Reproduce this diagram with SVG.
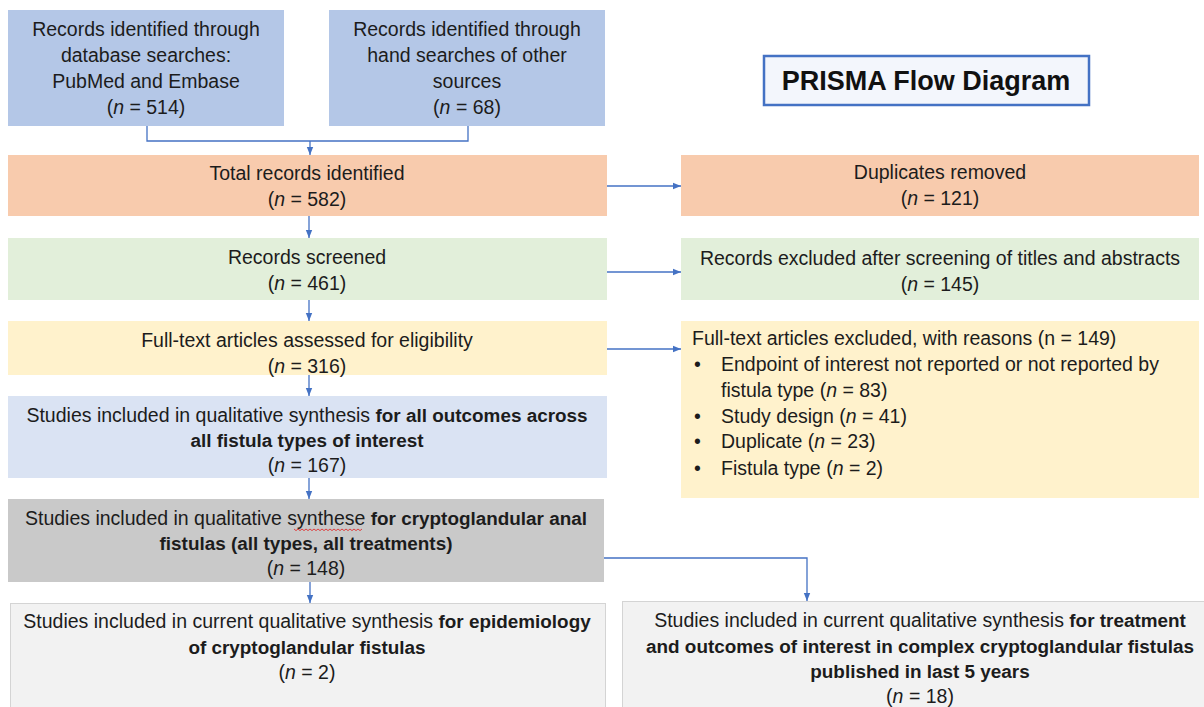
<svg xmlns="http://www.w3.org/2000/svg" width="1204" height="707" viewBox="0 0 1204 707">
  <style>
    .t { font-family: "Liberation Sans", Arial, sans-serif; font-size: 19.5px; fill: #1c1c1c; }
    .c { text-anchor: middle; }
    .b { font-weight: bold; font-size: 18.9px; }
    .i { font-style: italic; }
    .title { font-family: "Liberation Sans", Arial, sans-serif; font-size: 27px; font-weight: bold; fill: #111; text-anchor: middle; }
    .conn { fill: none; stroke: #4472c4; stroke-width: 1.3; }
  </style>
  <defs>
    <marker id="arr" viewBox="0 0 8 8" refX="8" refY="4" markerWidth="8" markerHeight="8" markerUnits="userSpaceOnUse" orient="auto">
      <path d="M0,0.8 L8,4 L0,7.2 Z" fill="#4472c4"/>
    </marker>
  </defs>

  <rect width="1204" height="707" fill="#ffffff"/>

  <!-- identification sources -->
  <g id="db-search">
    <rect x="8" y="10" width="276" height="116" fill="#b4c7e7"/>
    <text class="t c" x="146" y="36">Records identified through</text>
    <text class="t c" x="146" y="62">database searches:</text>
    <text class="t c" x="146" y="88">PubMed and Embase</text>
    <text class="t c" x="146" y="114">(<tspan class="i">n</tspan> = 514)</text>
  </g>
  <g id="hand-search">
    <rect x="329" y="10" width="276" height="116" fill="#b4c7e7"/>
    <text class="t c" x="467" y="36">Records identified through</text>
    <text class="t c" x="467" y="62">hand searches of other</text>
    <text class="t c" x="467" y="88">sources</text>
    <text class="t c" x="467" y="114">(<tspan class="i">n</tspan> = 68)</text>
  </g>

  <g id="title">
    <rect x="764" y="56" width="325" height="49" fill="#f3f6fc" stroke="#4472c4" stroke-width="2.5"/>
    <text class="title" x="926" y="90">PRISMA Flow Diagram</text>
  </g>

  <g id="total">
    <rect x="8" y="155" width="599" height="61" fill="#f8cbad"/>
    <text class="t c" x="307" y="180">Total records identified</text>
    <text class="t c" x="307" y="206">(<tspan class="i">n</tspan> = 582)</text>
  </g>
  <g id="duplicates">
    <rect x="681" y="155" width="518" height="61" fill="#f8cbad"/>
    <text class="t c" x="940" y="179">Duplicates removed</text>
    <text class="t c" x="940" y="205">(<tspan class="i">n</tspan> = 121)</text>
  </g>

  <g id="screened">
    <rect x="8" y="238" width="599" height="62" fill="#e2efda"/>
    <text class="t c" x="307" y="264">Records screened</text>
    <text class="t c" x="307" y="290">(<tspan class="i">n</tspan> = 461)</text>
  </g>
  <g id="screen-excluded">
    <rect x="681" y="238" width="518" height="62" fill="#e2efda"/>
    <text class="t c" x="940" y="265">Records excluded after screening of titles and abstracts</text>
    <text class="t c" x="940" y="291">(<tspan class="i">n</tspan> = 145)</text>
  </g>

  <g id="fulltext">
    <rect x="8" y="321" width="599" height="54" fill="#fff2cc"/>
    <text class="t c" x="307" y="347">Full-text articles assessed for eligibility</text>
    <text class="t c" x="307" y="373">(<tspan class="i">n</tspan> = 316)</text>
  </g>
  <g id="fulltext-excluded">
    <rect x="681" y="321" width="518" height="177" fill="#fff2cc"/>
    <text class="t" x="692" y="345">Full-text articles excluded, with reasons (n = 149)</text>
    <text class="t" x="694" y="371">•</text>
    <text class="t" x="721" y="371">Endpoint of interest not reported or not reported by</text>
    <text class="t" x="721" y="397">fistula type (<tspan class="i">n</tspan> = 83)</text>
    <text class="t" x="694" y="423">•</text>
    <text class="t" x="721" y="423">Study design (<tspan class="i">n</tspan> = 41)</text>
    <text class="t" x="694" y="448">•</text>
    <text class="t" x="721" y="448">Duplicate (<tspan class="i">n</tspan> = 23)</text>
    <text class="t" x="694" y="475">•</text>
    <text class="t" x="721" y="475">Fistula type (<tspan class="i">n</tspan> = 2)</text>
  </g>

  <g id="all-outcomes">
    <rect x="8" y="396" width="599" height="82" fill="#dae3f3"/>
    <text class="t c" x="307" y="422">Studies included in qualitative synthesis <tspan class="b">for all outcomes across</tspan></text>
    <text class="t c b" x="307" y="447">all fistula types of interest</text>
    <text class="t c" x="307" y="472">(<tspan class="i">n</tspan> = 167)</text>
  </g>

  <g id="cryptoglandular">
    <rect x="8" y="499" width="596" height="83" fill="#c9c9c9"/>
    <text class="t c" x="306" y="525">Studies included in qualitative synthese <tspan class="b">for cryptoglandular anal</tspan></text>
    <text class="t c b" x="306" y="550">fistulas (all types, all treatments)</text>
    <text class="t c" x="306" y="575">(<tspan class="i">n</tspan> = 148)</text>
    <!-- spell-check squiggle under "synthese" -->
    <path d="M294,529 l2,1.6 l2,-1.6 l2,1.6 l2,-1.6 l2,1.6 l2,-1.6 l2,1.6 l2,-1.6 l2,1.6 l2,-1.6 l2,1.6 l2,-1.6 l2,1.6 l2,-1.6 l2,1.6 l2,-1.6 l2,1.6 l2,-1.6 l2,1.6 l2,-1.6 l2,1.6 l2,-1.6 l2,1.6 l2,-1.6 l2,1.6 l2,-1.6 l2,1.6 l2,-1.6 l2,1.6 l2,-1.6 l2,1.6 l2,-1.6 l2,1.6 l2,-1.6" fill="none" stroke="#e03030" stroke-width="0.9"/>
  </g>

  <g id="epidemiology">
    <rect x="10.5" y="603.5" width="595" height="110" fill="#f2f2f2" stroke="#d4d4d4" stroke-width="1"/>
    <text class="t c" x="307" y="628">Studies included in current qualitative synthesis <tspan class="b">for epidemiology</tspan></text>
    <text class="t c b" x="307" y="654">of cryptoglandular fistulas</text>
    <text class="t c" x="307" y="679">(<tspan class="i">n</tspan> = 2)</text>
  </g>

  <g id="complex-treatment">
    <rect x="622.5" y="601.5" width="590" height="112" fill="#f2f2f2" stroke="#d4d4d4" stroke-width="1"/>
    <text class="t c" x="920" y="627">Studies included in current qualitative synthesis <tspan class="b">for treatment</tspan></text>
    <text class="t c b" x="920" y="653">and outcomes of interest in complex cryptoglandular fistulas</text>
    <text class="t c b" x="920" y="678">published in last 5 years</text>
    <text class="t c" x="920" y="703">(<tspan class="i">n</tspan> = 18)</text>
  </g>

  <!-- connectors -->
  <g id="connectors">
    <path class="conn" d="M147,126 V141 H468 V126"/>
    <path class="conn" d="M310,141 V155" marker-end="url(#arr)"/>
    <path class="conn" d="M607,186 H681" marker-end="url(#arr)"/>
    <path class="conn" d="M309,216 V238" marker-end="url(#arr)"/>
    <path class="conn" d="M607,272 H681" marker-end="url(#arr)"/>
    <path class="conn" d="M309,300 V321" marker-end="url(#arr)"/>
    <path class="conn" d="M607,349 H681" marker-end="url(#arr)"/>
    <path class="conn" d="M309,375 V396" marker-end="url(#arr)"/>
    <path class="conn" d="M309,478 V499" marker-end="url(#arr)"/>
    <path class="conn" d="M310,582 V603" marker-end="url(#arr)"/>
    <path class="conn" d="M604,558 H807 V601" marker-end="url(#arr)"/>
  </g>
</svg>
